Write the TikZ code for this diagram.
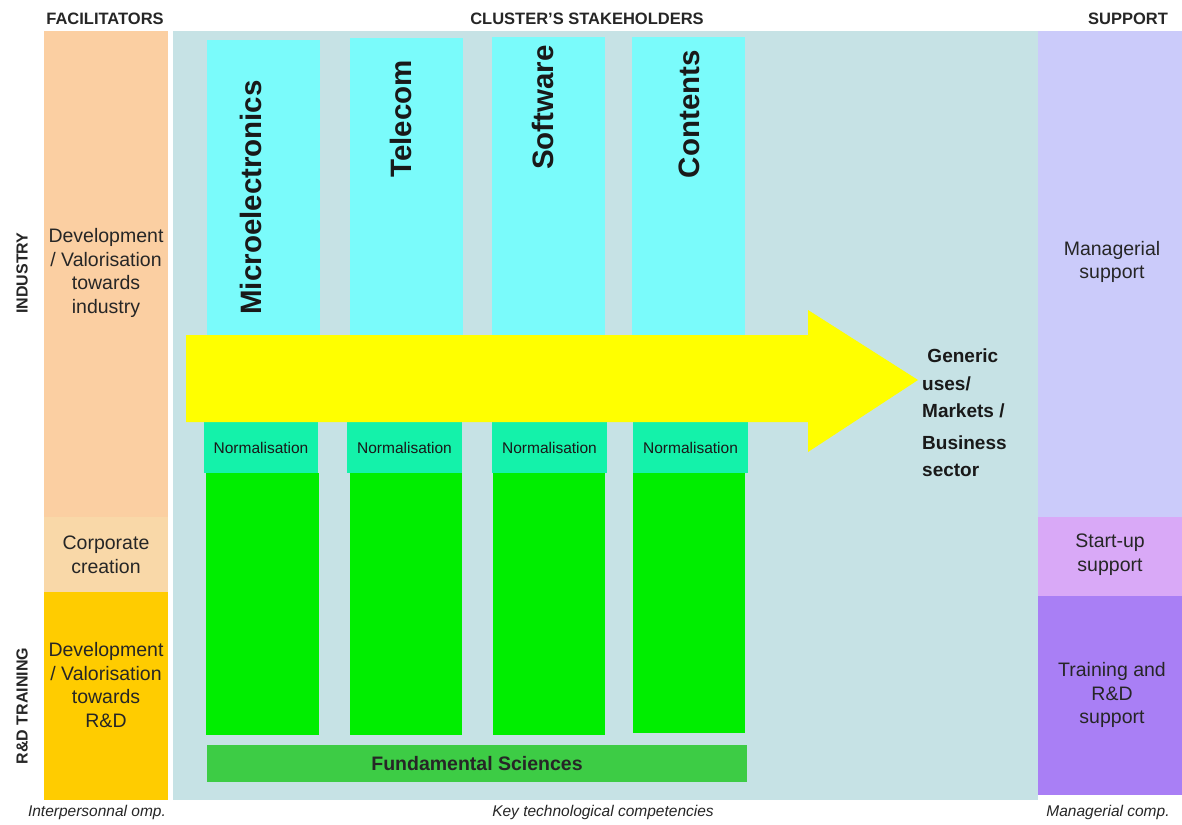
\documentclass[tikz,border=0pt]{standalone}
\usepackage{fontspec}
\setmainfont{Liberation Sans}
\definecolor{peach}{HTML}{FBCFA2}
\definecolor{peachlt}{HTML}{F9D8A8}
\definecolor{gold}{HTML}{FFCC00}
\definecolor{bgblue}{HTML}{C6E2E5}
\definecolor{cyanbox}{HTML}{7AFBFB}
\definecolor{normbox}{HTML}{14F2AA}
\definecolor{greenbox}{HTML}{00EE00}
\definecolor{fundbox}{HTML}{3DCC45}
\definecolor{arrowyel}{HTML}{FFFF00}
\definecolor{lavender}{HTML}{CBCBFA}
\definecolor{startup}{HTML}{D9A9F7}
\definecolor{trainbox}{HTML}{A97FF5}
\newcommand\bx[6]{\node[area,fill=#6,minimum width={(#3-#1)*1pt},minimum height={(#4-#2)*1pt}] (#5) at (#1,#2) {};}
\begin{document}
\begin{tikzpicture}[x=1pt,y=-1pt,
  area/.style={inner sep=0pt,outer sep=0pt,anchor=north west,draw=none},
  head/.style={inner sep=0pt,font=\fontsize{16.5}{18}\selectfont\bfseries,text=black!85},
  side/.style={inner sep=0pt,rotate=90,font=\fontsize{16}{18}\selectfont\bfseries,text=black!85},
  coltxt/.style={inner sep=0pt,align=center,font=\fontsize{19.5}{23.7}\selectfont,text=black!85},
  sector/.style={inner sep=0pt,rotate=90,anchor=east,font=\fontsize{29.5}{32}\selectfont\bfseries,text=black!90},
  normtxt/.style={inner sep=0pt,font=\fontsize{15.5}{17}\selectfont,text=black!90},
  foot/.style={inner sep=0pt,font=\fontsize{15.5}{17}\selectfont\itshape,text=black!85}]
\useasboundingbox (0,0) rectangle (1182,824);
\fill[white] (0,0) rectangle (1182,824);
% headers
\node[head] (hfac) at (105,19) {FACILITATORS};
\node[head] (hclu) at (587,19) {CLUSTER'S STAKEHOLDERS};
\node[head] (hsup) at (1128,19) {SUPPORT};
% side labels
\node[side] (sind) at (22,273) {INDUSTRY};
\node[side] (srd) at (22,706) {R\&D TRAINING};
% left column
\bx{44}{31}{168}{517}{lind}{peach}
\bx{44}{517}{168}{592}{lcorp}{peachlt}
\bx{44}{592}{168}{800}{lrd}{gold}
\node[coltxt] (tind) at (106,273) {Development\\/ Valorisation\\towards\\industry};
\node[coltxt] (tcorp) at (106,555) {Corporate\\creation};
\node[coltxt] (trd) at (106,685) {Development\\/ Valorisation\\towards\\R\&D};
% central background
\bx{173}{31}{1038}{800}{cbg}{bgblue}
% right column
\bx{1038}{31}{1182}{517}{rman}{lavender}
\bx{1038}{517}{1182}{596}{rstart}{startup}
\bx{1038}{596}{1182}{795}{rtrain}{trainbox}
\node[coltxt] (tman) at (1112,262) {Managerial\\support};
\node[coltxt] (tstart) at (1110,555) {Start-up\\support};
\node[coltxt] (ttrain) at (1112,695) {Training and\\R\&D\\support};
% sector columns
\bx{207}{40}{320}{422}{cmic}{cyanbox}
\bx{350}{38}{463}{422}{ctel}{cyanbox}
\bx{492}{37}{605}{422}{csof}{cyanbox}
\bx{632}{37}{745}{422}{ccon}{cyanbox}
\node[sector] (smic) at (251,80) {Microelectronics};
\node[sector] (stel) at (401,60) {Telecom};
\node[sector] (ssof) at (543,45) {Software};
\node[sector] (scon) at (689,50) {Contents};
% normalisation
\bx{204}{422}{318}{473}{nmic}{normbox}
\bx{347}{422}{462}{473}{ntel}{normbox}
\bx{492}{422}{607}{473}{nsof}{normbox}
\bx{633}{422}{748}{473}{ncon}{normbox}
\foreach \n in {nmic,ntel,nsof,ncon}
  \node[normtxt] at (\n.center) {Normalisation};
% green blocks
\bx{206}{473}{319}{735}{gmic}{greenbox}
\bx{350}{473}{462}{735}{gtel}{greenbox}
\bx{493}{473}{605}{735}{gsof}{greenbox}
\bx{633}{473}{745}{733}{gcon}{greenbox}
% fundamental sciences
\bx{207}{745}{747}{782}{fund}{fundbox}
\node[inner sep=0pt,font=\fontsize{19.5}{21}\selectfont\bfseries,text=black!85] (tfund) at (fund.center) {Fundamental Sciences};
% yellow arrow
\fill[arrowyel] (186,335) -- (808,335) -- (808,310) -- (918,380) -- (808,452) -- (808,422) -- (186,422) -- cycle;
\coordinate (atip) at (918,380);
\node[inner sep=0pt,anchor=north west,align=left,font=\fontsize{19}{27.5}\selectfont\bfseries,text=black!90] (tgen) at (922,349) {\ Generic\\uses/\\Markets /\\[4pt]Business\\sector};
% footers
\node[foot] (f1) at (97,812) {Interpersonnal omp.};
\node[foot] (f2) at (603,812) {Key technological competencies};
\node[foot] (f3) at (1108,812) {Managerial comp.};
\end{tikzpicture}
\end{document}
